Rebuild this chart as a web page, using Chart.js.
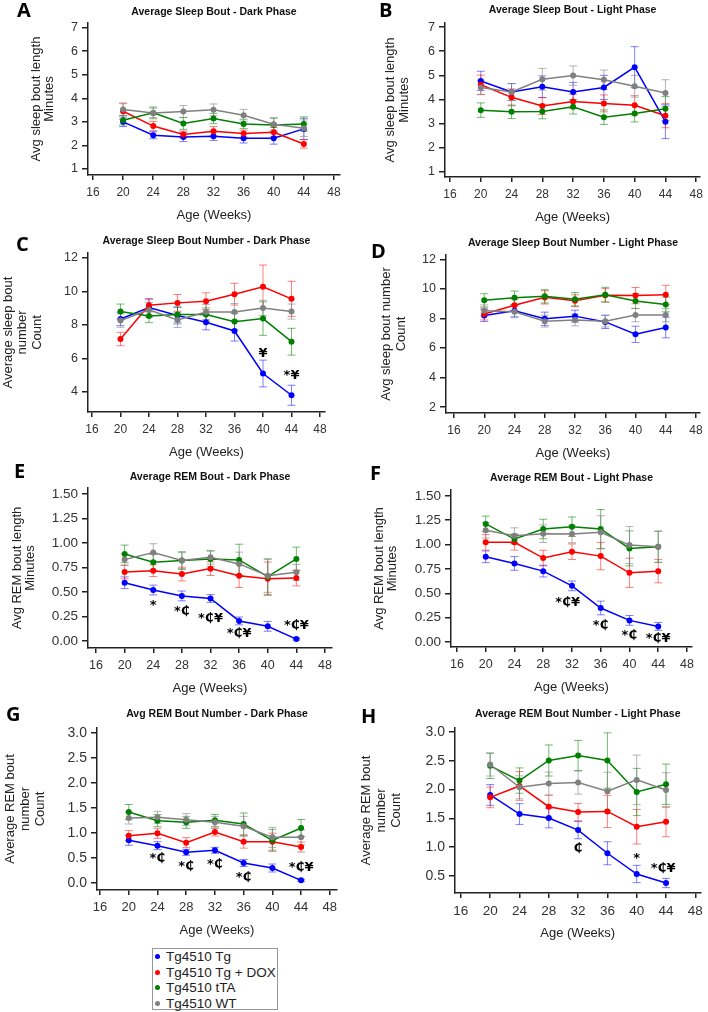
<!DOCTYPE html>
<html>
<head>
<meta charset="utf-8">
<script src="https://cdn.jsdelivr.net/npm/chart.js@4.4.1/dist/chart.umd.min.js"></script>
<style>
    body { margin: 0; background: #fff; width: 708px; height: 1012px; position: relative; overflow: hidden; font-family: 'Liberation Sans', Arial, sans-serif; }
    canvas { position: absolute; }
    .letter { position: absolute; font-family: 'Open Sans', sans-serif; font-weight: 700; font-size: 20px; line-height: 20px; color: #000; }
    #legend { position: absolute; left: 152px; top: 948px; width: 124px; height: 60px; border: 1px solid #999; font-size: 13.5px; line-height: 15.5px; color: #222; }
    #legend .row { position: relative; padding-left: 13px; white-space: nowrap; }
    #legend .dot { position: absolute; left: 2px; top: 5px; width: 5px; height: 5px; border-radius: 50%; }
</style>
</head>
<body>
<div id="legend"></div>
<script>
// Shared data
const weeks = [20, 24, 28, 32, 36, 40, 44];
const xTicks = [16, 20, 24, 28, 32, 36, 40, 44, 48];
const seriesNames = ['Tg4510 Tg', 'Tg4510 Tg + DOX', 'Tg4510 tTA', 'Tg4510 WT'];
const colors = ['#0000ff', '#ff0000', '#008000', '#808080'];
const errColors = ['rgba(0,0,255,0.5)', 'rgba(255,0,0,0.5)', 'rgba(0,128,0,0.55)', 'rgba(128,128,128,0.6)'];

// A - Average Sleep Bout, Dark Phase
const aTg  = [3.00, 2.43, 2.36, 2.39, 2.30, 2.30, 2.70];
const aDox = [3.45, 2.82, 2.46, 2.60, 2.50, 2.56, 2.06];
const aTta = [3.07, 3.38, 2.93, 3.14, 2.91, 2.87, 2.91];
const aWt  = [3.52, 3.38, 3.44, 3.51, 3.28, 2.90, 2.73];
const aTgErr  = [0.20, 0.15, 0.20, 0.18, 0.20, 0.25, 0.45];
const aDoxErr = [0.35, 0.20, 0.15, 0.20, 0.15, 0.20, 0.18];
const aTtaErr = [0.20, 0.25, 0.25, 0.22, 0.20, 0.30, 0.30];
const aWtErr  = [0.25, 0.20, 0.25, 0.25, 0.25, 0.25, 0.35];

// B - Average Sleep Bout, Light Phase
const bTg  = [4.77, 4.31, 4.53, 4.31, 4.50, 5.34, 3.08];
const bDox = [4.61, 4.09, 3.73, 3.92, 3.84, 3.76, 3.33];
const bTta = [3.56, 3.49, 3.50, 3.70, 3.27, 3.42, 3.62];
const bWt  = [4.50, 4.31, 4.84, 4.99, 4.82, 4.55, 4.27];
const bTgErr  = [0.40, 0.35, 0.45, 0.40, 0.50, 0.85, 0.70];
const bDoxErr = [0.40, 0.35, 0.35, 0.30, 0.35, 0.40, 0.50];
const bTtaErr = [0.30, 0.28, 0.30, 0.30, 0.30, 0.35, 0.50];
const bWtErr  = [0.30, 0.35, 0.45, 0.40, 0.40, 0.45, 0.55];

// C - Average Sleep Bout Number, Dark Phase
const cTg  = [8.36, 9.04, 8.56, 8.16, 7.64, 5.10, 3.80];
const cDox = [7.16, 9.18, 9.32, 9.42, 9.84, 10.28, 9.56];
const cTta = [8.80, 8.54, 8.62, 8.62, 8.20, 8.38, 7.00];
const cWt  = [8.26, 8.90, 8.30, 8.78, 8.78, 9.02, 8.80];
const cTgErr  = [0.40, 0.50, 0.50, 0.45, 0.60, 0.80, 0.60];
const cDoxErr = [0.40, 0.40, 0.50, 0.50, 0.65, 1.30, 1.05];
const cTtaErr = [0.45, 0.40, 0.45, 0.40, 0.50, 1.00, 0.80];
const cWtErr  = [0.40, 0.45, 0.45, 0.45, 0.50, 0.45, 0.45];

// D - Average Sleep Bout Number, Light Phase
const dTg  = [8.20, 8.52, 7.98, 8.16, 7.77, 6.93, 7.39];
const dDox = [8.30, 8.90, 9.43, 9.20, 9.57, 9.55, 9.60];
const dTta = [9.23, 9.41, 9.50, 9.30, 9.61, 9.18, 8.95];
const dWt  = [8.52, 8.45, 7.82, 7.90, 7.82, 8.23, 8.23];
const dTgErr  = [0.40, 0.40, 0.45, 0.40, 0.45, 0.55, 0.70];
const dDoxErr = [0.40, 0.40, 0.45, 0.40, 0.45, 0.55, 0.65];
const dTtaErr = [0.45, 0.45, 0.45, 0.45, 0.50, 0.50, 0.50];
const dWtErr  = [0.40, 0.40, 0.40, 0.40, 0.40, 0.45, 0.45];

// E - Average REM Bout, Dark Phase
const eTg  = [0.594, 0.520, 0.460, 0.434, 0.205, 0.150, 0.020];
const eDox = [0.704, 0.717, 0.683, 0.738, 0.666, 0.635, 0.642];
const eTta = [0.888, 0.803, 0.820, 0.837, 0.827, 0.656, 0.837];
const eWt  = [0.830, 0.902, 0.820, 0.854, 0.786, 0.666, 0.700];
const eTgErr  = [0.06, 0.05, 0.05, 0.04, 0.04, 0.05, 0.01];
const eDoxErr = [0.07, 0.06, 0.07, 0.07, 0.12, 0.17, 0.08];
const eTtaErr = [0.09, 0.08, 0.09, 0.08, 0.16, 0.18, 0.12];
const eWtErr  = [0.06, 0.09, 0.08, 0.07, 0.12, 0.17, 0.08];

// F - Average REM Bout, Light Phase
const fTg  = [0.875, 0.807, 0.728, 0.577, 0.350, 0.223, 0.161];
const fDox = [1.023, 1.023, 0.862, 0.927, 0.882, 0.711, 0.728];
const fTta = [1.212, 1.057, 1.160, 1.184, 1.160, 0.961, 0.978];
const fWt  = [1.147, 1.092, 1.112, 1.109, 1.126, 0.995, 0.978];
const fTgErr  = [0.06, 0.07, 0.06, 0.05, 0.07, 0.05, 0.04];
const fDoxErr = [0.08, 0.08, 0.08, 0.08, 0.14, 0.15, 0.12];
const fTtaErr = [0.08, 0.05, 0.10, 0.10, 0.20, 0.18, 0.16];
const fWtErr  = [0.08, 0.08, 0.09, 0.09, 0.17, 0.19, 0.16];

// G - Avg REM Bout Number, Dark Phase
const gTg  = [0.853, 0.747, 0.613, 0.653, 0.400, 0.300, 0.053];
const gDox = [0.947, 0.993, 0.807, 1.020, 0.827, 0.827, 0.720];
const gTta = [1.420, 1.247, 1.213, 1.253, 1.180, 0.853, 1.100];
const gWt  = [1.300, 1.313, 1.267, 1.213, 1.133, 0.913, 0.913];
const gTgErr  = [0.10, 0.08, 0.06, 0.06, 0.07, 0.08, 0.02];
const gDoxErr = [0.10, 0.10, 0.10, 0.08, 0.13, 0.17, 0.10];
const gTtaErr = [0.15, 0.12, 0.12, 0.12, 0.22, 0.22, 0.17];
const gWtErr  = [0.12, 0.12, 0.12, 0.12, 0.20, 0.20, 0.15];

// H - Average REM Bout Number, Light Phase
const hTg  = [1.907, 1.576, 1.506, 1.297, 0.895, 0.535, 0.378];
const hDox = [1.866, 2.064, 1.703, 1.610, 1.622, 1.355, 1.442];
const hTta = [2.413, 2.157, 2.506, 2.593, 2.506, 1.959, 2.093];
const hWt  = [2.436, 2.040, 2.105, 2.122, 1.971, 2.169, 1.994];
const hTgErr  = [0.18, 0.18, 0.17, 0.15, 0.20, 0.15, 0.08];
const hDoxErr = [0.18, 0.25, 0.20, 0.15, 0.28, 0.30, 0.26];
const hTtaErr = [0.22, 0.22, 0.27, 0.26, 0.48, 0.41, 0.35];
const hWtErr  = [0.20, 0.20, 0.20, 0.20, 0.33, 0.43, 0.30];

// Significance marks (week, value where the label sits, text)
const cMarks = [[40, 6.3, '¥'], [44, 5.0, '*¥']];
const eMarks = [[24, 0.36, '*'], [28, 0.30, '*₵'], [32, 0.23, '*₵¥'], [36, 0.075, '*₵¥'], [44, 0.16, '*₵¥']];
const fMarks = [[31.4, 0.41, '*₵¥'], [36, 0.165, '*₵'], [40, 0.07, '*₵'], [44, 0.04, '*₵¥']];
const gMarks = [[24, 0.49, '*₵'], [28, 0.33, '*₵'], [32, 0.37, '*₵'], [36, 0.11, '*₵'], [44, 0.30, '*₵¥']];
const hMarks = [[32, 0.98, '₵'], [40, 0.80, '*'], [43.6, 0.63, '*₵¥']];

const FONT = "'Liberation Sans', Arial, sans-serif";
const XH = 48;

// Error bars drawn under the lines through the chart scales
const errorBars = {
    id: 'errorBars',
    beforeDatasetsDraw(chart) {
        const { ctx, scales: { x, y } } = chart;
        ctx.save();
        ctx.lineWidth = 1;
        chart.data.datasets.forEach(ds => {
            ctx.strokeStyle = ds.errColor;
            ds.data.forEach((p, j) => {
                const px = x.getPixelForValue(p.x);
                const top = y.getPixelForValue(p.y + ds.err[j]);
                const bot = y.getPixelForValue(p.y - ds.err[j]);
                ctx.beginPath();
                ctx.moveTo(px, top); ctx.lineTo(px, bot);
                ctx.moveTo(px - 4, top); ctx.lineTo(px + 4, top);
                ctx.moveTo(px - 4, bot); ctx.lineTo(px + 4, bot);
                ctx.stroke();
            });
        });
        ctx.restore();
    }
};

function marksPlugin(marks) {
    return {
        id: 'sigMarks',
        afterDatasetsDraw(chart) {
            const { ctx, scales: { x, y } } = chart;
            ctx.save();
            ctx.font = "bold 13px 'DejaVu Sans', sans-serif";
            ctx.fillStyle = '#000';
            ctx.textAlign = 'center';
            ctx.textBaseline = 'middle';
            marks.forEach(m => ctx.fillText(m[2], x.getPixelForValue(m[0]), y.getPixelForValue(m[1])));
            ctx.restore();
        }
    };
}

function buildPanel(p) {
    const g = p.geo;
    const cv = document.createElement('canvas');
    cv.width = g.cw;
    cv.height = g.ch;
    cv.style.left = g.cx + 'px';
    cv.style.top = g.cy + 'px';
    document.body.appendChild(cv);

    const letter = document.createElement('div');
    letter.className = 'letter';
    letter.textContent = p.letter;
    letter.style.left = p.lx + 'px';
    letter.style.top = p.ly + 'px';
    document.body.appendChild(letter);

    const titleLh = 10.5 * 1.2;
    const datasets = p.series.map((vals, i) => ({
        label: seriesNames[i],
        data: vals.map((v, j) => ({ x: weeks[j], y: v })),
        err: p.errs[i],
        errColor: errColors[i],
        borderColor: colors[i],
        backgroundColor: colors[i],
        pointBackgroundColor: colors[i],
        pointBorderWidth: 0,
        pointRadius: 3,
        borderWidth: 1.5,
        tension: 0,
        order: 3 - i
    }));

    new Chart(cv.getContext('2d'), {
        type: 'line',
        data: { datasets },
        options: {
            responsive: false,
            animation: false,
            devicePixelRatio: 1,
            layout: { padding: { left: 0, top: 0, right: g.cx + g.cw - g.R, bottom: g.cy + g.ch - g.B - XH } },
            plugins: {
                legend: { display: false },
                tooltip: { enabled: false },
                title: {
                    display: true,
                    text: p.title,
                    fullSize: false,
                    color: '#111',
                    font: { family: FONT, size: 10.5, weight: 'bold' },
                    padding: { top: g.ty - g.cy - titleLh / 2, bottom: g.T - g.ty - titleLh / 2 }
                }
            },
            scales: {
                x: {
                    type: 'linear',
                    min: p.xMin,
                    max: p.xMax,
                    afterBuildTicks: s => { s.ticks = xTicks.map(v => ({ value: v })); },
                    afterFit: s => { s.height = XH; },
                    ticks: { font: { family: FONT, size: p.xFont }, color: '#333', padding: 5, maxRotation: 0, autoSkip: false, callback: v => String(v) },
                    grid: { display: true, drawOnChartArea: false, drawTicks: true, tickLength: 5, color: '#222', lineWidth: 1.5 },
                    border: { display: true, color: '#222', width: 1.5 },
                    title: { display: true, text: 'Age (Weeks)', color: '#222', font: { family: FONT, size: 13 }, padding: 0 }
                },
                y: {
                    type: 'linear',
                    min: p.yMin,
                    max: p.yMax,
                    afterBuildTicks: s => { s.ticks = p.yTicks.map(v => ({ value: v })); },
                    afterFit: s => { s.width = g.L - g.cx; },
                    ticks: { font: { family: FONT, size: p.yFont }, color: '#333', padding: 4, autoSkip: false, callback: v => v.toFixed(p.yDec) },
                    grid: { display: true, drawOnChartArea: false, drawTicks: true, tickLength: 6, color: '#222', lineWidth: 1.5 },
                    border: { display: true, color: '#222', width: 1.5 },
                    title: {
                        display: true,
                        text: p.yTitle,
                        color: '#222',
                        font: { family: FONT, size: 13, lineHeight: p.yLh / 13 },
                        padding: { top: p.yTx - p.yLh / 2, bottom: 0 }
                    }
                }
            }
        },
        plugins: [errorBars, marksPlugin(p.marks || [])]
    });
}

buildPanel({
    letter: 'A', lx: 17, ly: 0,
    geo: { cx: 0, cy: 0, cw: 354, ch: 230, L: 88, R: 340, T: 23, B: 175, ty: 12 },
    title: 'Average Sleep Bout - Dark Phase',
    yTitle: ['Avg sleep bout length', 'Minutes'], yTx: 36, yLh: 13,
    xMin: 15.34, xMax: 48.8, yMin: 0.74, yMax: 7.2, yTicks: [1, 2, 3, 4, 5, 6, 7], yDec: 0,
    xFont: 12, yFont: 12.5,
    series: [aTg, aDox, aTta, aWt], errs: [aTgErr, aDoxErr, aTtaErr, aWtErr]
});
buildPanel({
    letter: 'B', lx: 379, ly: 0,
    geo: { cx: 354, cy: 0, cw: 354, ch: 232, L: 445, R: 701, T: 23, B: 177, ty: 10 },
    title: 'Average Sleep Bout - Light Phase',
    yTitle: ['Avg sleep bout length', 'Minutes'], yTx: 36.5, yLh: 13.5,
    xMin: 15.35, xMax: 48.52, yMin: 0.79, yMax: 7.17, yTicks: [1, 2, 3, 4, 5, 6, 7], yDec: 0,
    xFont: 12, yFont: 12.5,
    series: [bTg, bDox, bTta, bWt], errs: [bTgErr, bDoxErr, bTtaErr, bWtErr]
});
buildPanel({
    letter: 'C', lx: 16, ly: 234,
    geo: { cx: 0, cy: 230, cw: 354, ch: 232, L: 88, R: 325, T: 253, B: 412, ty: 241 },
    title: 'Average Sleep Bout Number - Dark Phase',
    yTitle: ['Average sleep bout', 'number', 'Count'], yTx: 8, yLh: 14.5,
    xMin: 15.44, xMax: 48.7, yMin: 2.8, yMax: 12.3, yTicks: [4, 6, 8, 10, 12], yDec: 0,
    xFont: 12, yFont: 12.5,
    series: [cTg, cDox, cTta, cWt], errs: [cTgErr, cDoxErr, cTtaErr, cWtErr],
    marks: cMarks
});
buildPanel({
    letter: 'D', lx: 371, ly: 241,
    geo: { cx: 354, cy: 230, cw: 354, ch: 232, L: 446, R: 700, T: 255, B: 413, ty: 243 },
    title: 'Average Sleep Bout Number - Light Phase',
    yTitle: ['Avg sleep bout number', 'Count'], yTx: 32, yLh: 15,
    xMin: 14.94, xMax: 48.53, yMin: 1.6, yMax: 12.3, yTicks: [2, 4, 6, 8, 10, 12], yDec: 0,
    xFont: 12, yFont: 12.5,
    series: [dTg, dDox, dTta, dWt], errs: [dTgErr, dDoxErr, dTtaErr, dWtErr]
});
buildPanel({
    letter: 'E', lx: 14, ly: 461,
    geo: { cx: 0, cy: 462, cw: 354, ch: 236, L: 88, R: 332, T: 488, B: 648, ty: 477 },
    title: 'Average REM Bout - Dark Phase',
    yTitle: ['Avg REM bout length', 'Minutes'], yTx: 17, yLh: 13,
    xMin: 14.88, xMax: 48.98, yMin: -0.071, yMax: 1.56, yTicks: [0, 0.25, 0.5, 0.75, 1, 1.25, 1.5], yDec: 2,
    xFont: 12.5, yFont: 13.5,
    series: [eTg, eDox, eTta, eWt], errs: [eTgErr, eDoxErr, eTtaErr, eWtErr],
    marks: eMarks
});
buildPanel({
    letter: 'F', lx: 370, ly: 463,
    geo: { cx: 354, cy: 462, cw: 354, ch: 236, L: 451, R: 692, T: 490, B: 647, ty: 478 },
    title: 'Average REM Bout - Light Phase',
    yTitle: ['Avg REM bout length', 'Minutes'], yTx: 25, yLh: 13,
    xMin: 15.17, xMax: 48.7, yMin: -0.05, yMax: 1.56, yTicks: [0, 0.25, 0.5, 0.75, 1, 1.25, 1.5], yDec: 2,
    xFont: 12.5, yFont: 13.5,
    series: [fTg, fDox, fTta, fWt], errs: [fTgErr, fDoxErr, fTtaErr, fWtErr],
    marks: fMarks
});
buildPanel({
    letter: 'G', lx: 6, ly: 704,
    geo: { cx: 0, cy: 698, cw: 354, ch: 244, L: 97, R: 337, T: 728, B: 890, ty: 714 },
    title: 'Avg REM Bout Number - Dark Phase',
    yTitle: ['Average REM bout', 'number', 'Count'], yTx: 10, yLh: 15,
    xMin: 15.58, xMax: 49.0, yMin: -0.14, yMax: 3.1, yTicks: [0, 0.5, 1, 1.5, 2, 2.5, 3], yDec: 1,
    xFont: 13, yFont: 14,
    series: [gTg, gDox, gTta, gWt], errs: [gTgErr, gDoxErr, gTtaErr, gWtErr],
    marks: gMarks
});
buildPanel({
    letter: 'H', lx: 361, ly: 706,
    geo: { cx: 354, cy: 698, cw: 354, ch: 244, L: 455, R: 706, T: 728, B: 893, ty: 714 },
    title: 'Average REM Bout Number - Light Phase',
    yTitle: ['Average REM bout', 'number', 'Count'], yTx: 12, yLh: 15,
    xMin: 15.2, xMax: 48.7, yMin: 0.205, yMax: 3.07, yTicks: [0.5, 1, 1.5, 2, 2.5, 3], yDec: 1,
    xFont: 13.5, yFont: 14,
    series: [hTg, hDox, hTta, hWt], errs: [hTgErr, hDoxErr, hTtaErr, hWtErr],
    marks: hMarks
});

// Shared legend
const legend = document.getElementById('legend');
seriesNames.forEach((name, i) => {
    const row = document.createElement('div');
    row.className = 'row';
    const dot = document.createElement('span');
    dot.className = 'dot';
    dot.style.background = colors[i];
    row.appendChild(dot);
    row.appendChild(document.createTextNode(name));
    legend.appendChild(row);
});
</script>
</body>
</html>
